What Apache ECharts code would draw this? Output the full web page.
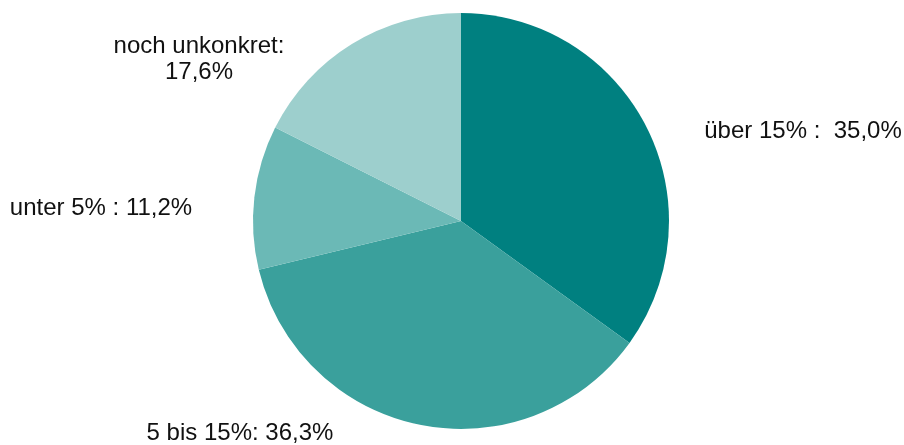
<!DOCTYPE html>
<html>
<head>
<meta charset="utf-8">
<script src="https://cdn.jsdelivr.net/npm/echarts@6/dist/echarts.min.js"></script>
<style>html,body{margin:0;padding:0;background:#fff}#c{width:904px;height:445px}</style>
</head>
<body>
<div id="c"></div>
<script>
const categories = ['über 15%', '5 bis 15%', 'unter 5%', 'noch unkonkret'];
const labelPrefixes = ['über 15% :  ', '5 bis 15%: ', 'unter 5% : ', 'noch unkonkret:\n'];
const values = [35.0, 36.3, 11.2, 17.6];
const colors = ['#008080', '#3aa09c', '#6bb9b6', '#9dcfcd'];
const labelSpots = [[803, 131], [240, 433], [101, 208], [199, 59]];

const chart = echarts.init(document.getElementById('c'));
chart.setOption({
  animation: false,
  series: [{
    type: 'pie',
    center: [461, 221],
    radius: 208,
    startAngle: 90,
    clockwise: true,
    silent: true,
    data: categories.map((n, i) => ({ name: n, value: values[i], itemStyle: { color: colors[i] } })),
    label: {
      show: true,
      position: 'outside',
      color: '#111',
      fontFamily: 'Liberation Sans, Arial, sans-serif',
      fontSize: 24,
      lineHeight: 26,
      align: 'center',
      formatter: p => labelPrefixes[p.dataIndex] + values[p.dataIndex].toFixed(1).replace('.', ',') + '%'
    },
    labelLine: { show: false },
    labelLayout: p => ({ x: labelSpots[p.dataIndex][0], y: labelSpots[p.dataIndex][1], align: 'center', verticalAlign: 'middle' })
  }]
});
</script>
</body>
</html>
